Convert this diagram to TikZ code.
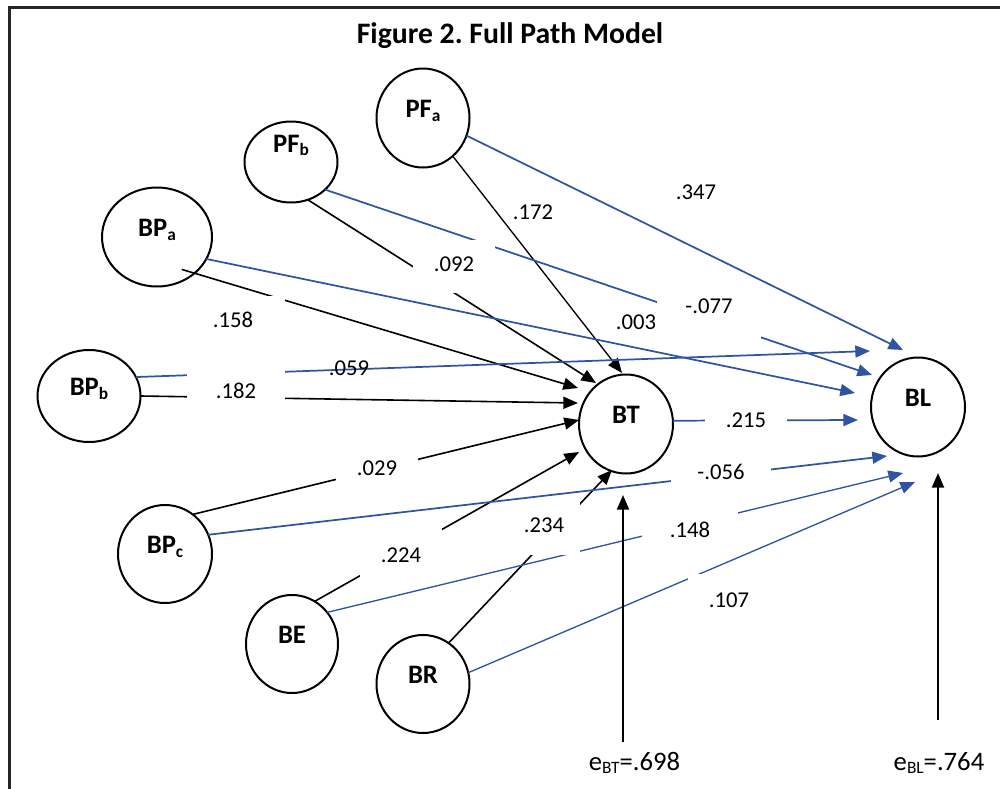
\documentclass[tikz,border=0pt]{standalone}
\usepackage{fontspec}
\setmainfont{Carlito}
\usetikzlibrary{shapes.geometric,arrows.meta}
\definecolor{pathblue}{RGB}{47,84,163}
\newcommand\lowsub[1]{\raisebox{-2.5pt}{\fontsize{13}{13}\selectfont #1}}
\frenchspacing

\begin{document}
\begin{tikzpicture}[x=0.75pt, y=-0.75pt,
    every node/.style={inner sep=0pt, outer sep=0pt},
    var/.style={ellipse, draw, line width=1.5pt, font=\fontsize{20}{20}\selectfont\bfseries, text height=12pt, text depth=12.5pt},
    num/.style={anchor=base, font=\fontsize{17}{17}\selectfont},
    gapbox/.style n args={3}{num, fill=white, minimum width=#1, text height=#2, text depth=#3},
    blk/.style={black, line width=1.2pt, -{Triangle[length=11pt,width=9pt]}},
    blu/.style={pathblue, line width=1.3pt, -{Triangle[length=11pt,width=9pt]}},
    err/.style={black, line width=1.5pt, -{Triangle[length=11pt,width=9pt]}}]

    \useasboundingbox (0,0) rectangle (1000,789);
    \draw[black!85, line width=2.2pt] (1000,7.5) -- (9.7,7.5) -- (9.7,789);

    \node[anchor=base, font=\fontsize{22.3}{22.3}\selectfont\bfseries] (title) at (510,43) {Figure 2. Full Path Model};

    \node[var, minimum width=69.75pt, minimum height=74.25pt] (pfa) at (423,118) {PF\lowsub{a}};
    \node[var, minimum width=69.75pt, minimum height=60.75pt, text depth=26.5pt] (pfb) at (291,162) {PF\lowsub{b}};
    \node[var, minimum width=82.5pt, minimum height=74.25pt] (bpa) at (157,237) {BP\lowsub{a}};
    \node[var, minimum width=77.25pt, minimum height=69pt] (bpb) at (89,396) {BP\lowsub{b}};
    \node[var, minimum width=70.5pt, minimum height=73.5pt] (bpc) at (165,554) {BP\lowsub{c}};
    \node[var, minimum width=69pt, minimum height=73.5pt] (be) at (292,644) {BE};
    \node[var, minimum width=69.75pt, minimum height=73.5pt] (br) at (423,684) {BR};
    \node[var, minimum width=70.5pt, minimum height=74.25pt] (bt) at (626,424) {BT};
    \node[var, minimum width=70.5pt, minimum height=74.25pt] (bl) at (918,407) {BL};

    \foreach \n/\x/\y in {pfa-bt/622/373, pfb-bt/596/383, bpa-bt/578/388, bpb-bt/578/403,
        bpc-bt/579/420, be-bt/579/452, br-bt/612/470, pfa-bl/903/350, bpb-bl/870/351,
        pfb-bl/872/375, bpa-bl/855/393, bt-bl/858/420, bpc-bl/887/456, be-bl/903/473,
        br-bl/915/482, ebt-tip/623/495, ebl-tip/938/473}
        \coordinate (\n) at (\x,\y);

    \draw[blk, line width=1pt] (pfa.308) -- (pfa-bt);
    \draw[blk] (pfb.294) -- (pfb-bt);
    \draw[blk, shorten <=-10pt] (bpa.316) -- (bpa-bt);
    \draw[blk] (bpb.0) -- (bpb-bt);
    \draw[blk] (bpc.55) -- (bpc-bt);
    \draw[blk] (be.62) -- (be-bt);
    \draw[blk] (br.58) -- (br-bt);

    \draw[blu] (pfa.338) -- (pfa-bl);
    \draw[blu] (pfb.321) -- (pfb-bl);
    \draw[blu] (bpa.336) -- (bpa-bl);
    \draw[blu] (bpb.22) -- (bpb-bl);
    \draw[blu] (bt.4) -- (bt-bl);
    \draw[blu] (bpc.24) -- (bpc-bl);
    \draw[blu, line width=1pt] (be.42) -- (be-bl);
    \draw[blu, line width=1pt] (br.14) -- (br-bl);

    \node[anchor=base, font=\fontsize{20}{20}\selectfont] (ebt) at (634.5,770) {e\lowsub{BT}=.698};
    \node[anchor=base, font=\fontsize{20}{20}\selectfont] (ebl) at (939,770) {e\lowsub{BL}=.764};
    \draw[err, shorten <=7pt] (ebt.north -| ebt-tip) -- (ebt-tip);
    \draw[err, shorten <=24pt] (ebl.north -| ebl-tip) -- (ebl-tip);

    \node[gapbox={61.5pt}{23.6pt}{16.1pt}] (w092) at (454,271.5) {.092};
    \node[gapbox={78pt}{23.6pt}{13.1pt}] (w158) at (233,327.5) {.158};
    \node[gapbox={73.5pt}{22.9pt}{8.6pt}] (w182) at (236,398.5) {.182};
    \node[gapbox={78pt}{19.1pt}{19.9pt}] (w077) at (709,313.5) {-.077};
    \node[gapbox={61.5pt}{11.3pt}{7.5pt}] (w215) at (746,427.5) {.215};
    \node[gapbox={75pt}{15.8pt}{8.3pt}] (w056) at (721,479) {-.056};
    \node[gapbox={72pt}{24pt}{6pt}] (w148) at (690,537) {.148};
    \node[gapbox={61.5pt}{25.1pt}{13.1pt}] (w107) at (729,607.5) {.107};
    \node[gapbox={60.8pt}{19.1pt}{8.6pt}] (w029) at (377,475.5) {.029};
    \node[gapbox={61.5pt}{27.8pt}{12pt}] (w224) at (401,562) {.224};
    \node[gapbox={54pt}{23.3pt}{17.3pt}] (w234) at (544,532) {.234};
    \node[num] (w172) at (533,219.5) {.172};
    \node[num] (w347) at (696,199.5) {.347};
    \node[num] (w003) at (636,329.5) {.003};
    \node[num] (w059) at (349,375.5) {.059};

\end{tikzpicture}
\end{document}
